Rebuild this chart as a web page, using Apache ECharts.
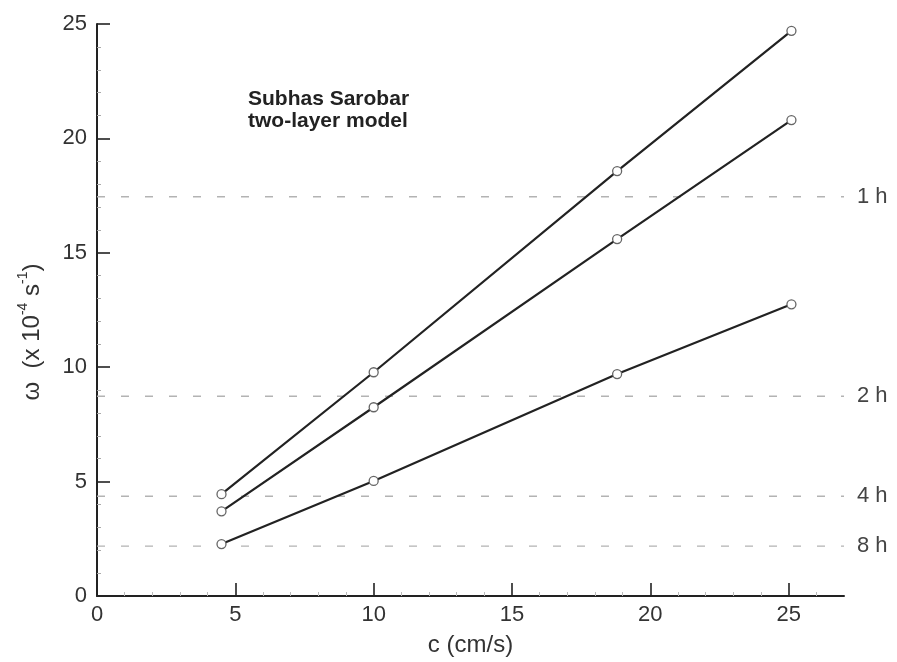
<!DOCTYPE html>
<html>
<head>
<meta charset="utf-8">
<script src="https://cdn.jsdelivr.net/npm/echarts@6/dist/echarts.min.js"></script>
<style>
  html, body { margin: 0; padding: 0; background: #fff; }
  #main { width: 897px; height: 662px; }
</style>
</head>
<body>
<div id="main"></div>
<script>
// wave speed c (cm/s) at which omega was computed
var speeds = [4.5, 10, 18.8, 25.1];
// three model curves, omega in 1e-4 s^-1
var curveTop = [4.45, 9.78, 18.57, 24.7];
var curveMid = [3.7, 8.25, 15.6, 20.8];
var curveLow = [2.27, 5.03, 9.7, 12.75];
// reference periods and their omega levels
var periodNames = ["1 h", "2 h", "4 h", "8 h"];
var periodOmega = [17.45, 8.73, 4.36, 2.18];
// x axis ticks / labels
var xTicks = [0, 5, 10, 15, 20, 25];
var xMin = 0, xMax = 27;

var font = "Liberation Sans, Arial, Helvetica, sans-serif";

function pairs(ys) {
  return speeds.map(function (c, i) { return [c, ys[i]]; });
}

function curve(ys) {
  return {
    type: "line",
    data: pairs(ys),
    symbol: "circle",
    symbolSize: 9,
    showAllSymbol: true,
    lineStyle: { color: "#222", width: 2.2 },
    itemStyle: { color: "#fff", borderColor: "#666", borderWidth: 1.3 },
    z: 5,
    animation: false
  };
}

var series = [];
periodOmega.forEach(function (w, i) {
  series.push({
    type: "line",
    data: [[xMin, w], [xMax, w]],
    symbol: "none",
    lineStyle: { color: "#b3b3b3", width: 1.4, type: [8, 16] },
    endLabel: {
      show: true,
      formatter: periodNames[i],
      distance: 13,
      color: "#444",
      fontSize: 22,
      fontFamily: font
    },
    z: 2,
    animation: false
  });
});
series.push(curve(curveTop), curve(curveMid), curve(curveLow));

var chart = echarts.init(document.getElementById("main"));
chart.setOption({
  backgroundColor: "#fff",
  animation: false,
  grid: { left: 97, top: 24, right: 53, bottom: 65 },
  xAxis: {
    type: "value",
    min: xMin,
    max: xMax,
    interval: 5,
    name: "c (cm/s)",
    nameLocation: "middle",
    nameGap: 37,
    nameTextStyle: { fontSize: 24, color: "#333", fontFamily: font },
    axisLine: { lineStyle: { color: "#222", width: 2 } },
    axisTick: { inside: true, length: 13, customValues: xTicks, lineStyle: { color: "#222", width: 1.6 } },
    minorTick: { show: true, splitNumber: 5, length: 4, lineStyle: { color: "#bbb" } },
    axisLabel: { customValues: xTicks, fontSize: 22, color: "#333", margin: 8, fontFamily: font },
    splitLine: { show: false }
  },
  yAxis: {
    type: "value",
    min: 0,
    max: 25,
    interval: 5,
    axisLine: { show: true, lineStyle: { color: "#222", width: 2 } },
    axisTick: { show: true, inside: true, length: 13, lineStyle: { color: "#222", width: 1.6 } },
    minorTick: { show: true, splitNumber: 5, length: 4, lineStyle: { color: "#aaa" } },
    axisLabel: { fontSize: 22, color: "#333", margin: 10, fontFamily: font },
    splitLine: { show: false }
  },
  graphic: [
    {
      type: "text",
      x: 30,
      y: 332,
      rotation: Math.PI / 2,
      style: {
        text: "{a|ω  (x 10}{s|-4}{a| s}{s|-1}{a|)}",
        align: "center",
        verticalAlign: "middle",
        fill: "#333",
        rich: {
          a: { fontSize: 24, fontFamily: font, fill: "#333", verticalAlign: "bottom", lineHeight: 28 },
          s: { fontSize: 14, fontFamily: font, fill: "#333", verticalAlign: "top", lineHeight: 28 }
        }
      }
    },
    {
      type: "text",
      left: 248,
      top: 88,
      style: {
        text: "Subhas Sarobar\ntwo-layer model",
        fontSize: 21,
        fontWeight: "bold",
        lineHeight: 22,
        fill: "#222",
        fontFamily: font
      }
    }
  ],
  series: series
});
</script>
</body>
</html>
